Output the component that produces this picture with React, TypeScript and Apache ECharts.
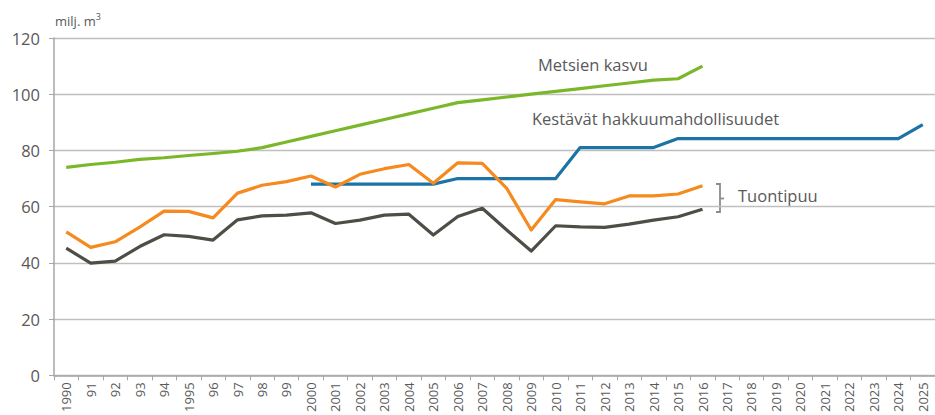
import React, { useEffect, useRef } from "react";
import * as echarts from "echarts";

const years: string[] = [
  "1990", "91", "92", "93", "94", "1995", "96", "97", "98", "99",
  "2000", "2001", "2002", "2003", "2004", "2005", "2006", "2007", "2008", "2009",
  "2010", "2011", "2012", "2013", "2014", "2015", "2016", "2017", "2018", "2019",
  "2020", "2021", "2022", "2023", "2024", "2025",
];

const metsienKasvu: (number | null)[] = [
  74, 75, 75.8, 76.8, 77.4, 78.2, 78.9, 79.7, 81, 83,
  85, 87, 89, 91, 93, 95, 97, 98, 99, 100,
  101, 102, 103, 104, 105, 105.5, 110,
];

const kestavat: (number | null)[] = [
  null, null, null, null, null, null, null, null, null, null,
  68, 68, 68, 68, 68, 68, 70, 70, 70, 70,
  70, 81, 81, 81, 81, 84.2, 84.2, 84.2, 84.2, 84.2,
  84.2, 84.2, 84.2, 84.2, 84.2, 89.2,
];

const kokonais: (number | null)[] = [
  51, 45.5, 47.5, 52.7, 58.4, 58.3, 56, 64.8, 67.6, 68.9,
  70.9, 67, 71.5, 73.5, 75, 68.3, 75.6, 75.4, 66.5, 51.7,
  62.5, 61.7, 61, 63.8, 63.8, 64.5, 67.4,
];

const kotimainen: (number | null)[] = [
  45.2, 39.9, 40.6, 45.8, 50, 49.4, 48.1, 55.3, 56.7, 57,
  57.8, 54, 55.2, 57, 57.3, 49.9, 56.5, 59.4, 51.7, 44.2,
  53.2, 52.8, 52.6, 53.8, 55.2, 56.4, 59.1,
];

const yTicks = { min: 0, max: 120, interval: 20 };

const FONT = "'Open Sans', 'Noto Sans', sans-serif";
const TEXT = "#595959";

export default function App() {
  const ref = useRef<HTMLDivElement>(null);

  useEffect(() => {
    if (!ref.current) return;
    const chart = echarts.init(ref.current, undefined, { renderer: "svg" });
    const line = (name: string, data: (number | null)[], color: string) => ({
      name,
      type: "line",
      data,
      symbol: "none",
      connectNulls: false,
      lineStyle: { color, width: 3.2, join: "round" },
      itemStyle: { color },
      z: 3,
    });
    chart.setOption({
      animation: false,
      backgroundColor: "#ffffff",
      textStyle: { fontFamily: FONT },
      grid: { left: 54, top: 38, bottom: 38, width: 890 },
      xAxis: {
        type: "category",
        data: years,
        boundaryGap: true,
        axisLine: { show: true, lineStyle: { color: "#a6a6a6", width: 1.5 } },
        axisTick: { show: true, length: 5, lineStyle: { color: "#a6a6a6" } },
        axisLabel: {
          rotate: 90,
          interval: 0,
          margin: 7,
          color: TEXT,
          fontSize: 13,
          fontFamily: FONT,
        },
        splitLine: { show: false },
      },
      yAxis: {
        type: "value",
        min: yTicks.min,
        max: yTicks.max,
        interval: yTicks.interval,
        axisLine: { show: true, lineStyle: { color: "#a6a6a6", width: 1.5 } },
        axisTick: { show: true, length: 5, lineStyle: { color: "#a6a6a6" } },
        axisLabel: { color: TEXT, fontSize: 16.5, margin: 14, fontFamily: FONT },
        splitLine: { show: true, lineStyle: { color: "#bfbfbf", width: 1.3 } },
      },
      series: [
        line("Metsien kasvu", metsienKasvu, "#7ab829"),
        line("Kestävät hakkuumahdollisuudet", kestavat, "#1b74a5"),
        line("Kokonaiskäyttö", kokonais, "#f58a1f"),
        line("Kotimainen", kotimainen, "#4e4e47"),
      ],
      graphic: [
        {
          type: "text",
          left: 55,
          top: 12,
          style: {
            text: "{a|milj. m}{s|3}",
            rich: {
              a: { fontSize: 13, fill: TEXT, fontFamily: FONT, verticalAlign: "bottom" },
              s: { fontSize: 9, fill: TEXT, fontFamily: FONT, verticalAlign: "top", padding: [0, 0, 6, 0] },
            },
          },
        },
        {
          type: "text",
          x: 538,
          y: 56,
          style: { text: "Metsien kasvu", fontSize: 16.5, fill: TEXT, fontFamily: FONT },
        },
        {
          type: "text",
          x: 532,
          y: 110,
          style: { text: "Kestävät hakkuumahdollisuudet", fontSize: 16.5, fill: TEXT, fontFamily: FONT },
        },
        {
          type: "text",
          x: 738,
          y: 187,
          style: { text: "Tuontipuu", fontSize: 16.5, fill: TEXT, fontFamily: FONT },
        },
        {
          type: "polyline",
          shape: { points: [[716, 184], [720, 184], [720, 212], [716, 212]] },
          style: { stroke: "#8c8c8c", lineWidth: 1.8, fill: "none" },
        },
        {
          type: "line",
          shape: { x1: 720, y1: 198.5, x2: 724, y2: 198.5 },
          style: { stroke: "#8c8c8c", lineWidth: 1.8 },
        },
      ],
    });
    return () => chart.dispose();
  }, []);

  return (
    <div
      ref={ref}
      style={{ position: "absolute", left: 0, top: 0, width: 935, height: 415 }}
    />
  );
}
